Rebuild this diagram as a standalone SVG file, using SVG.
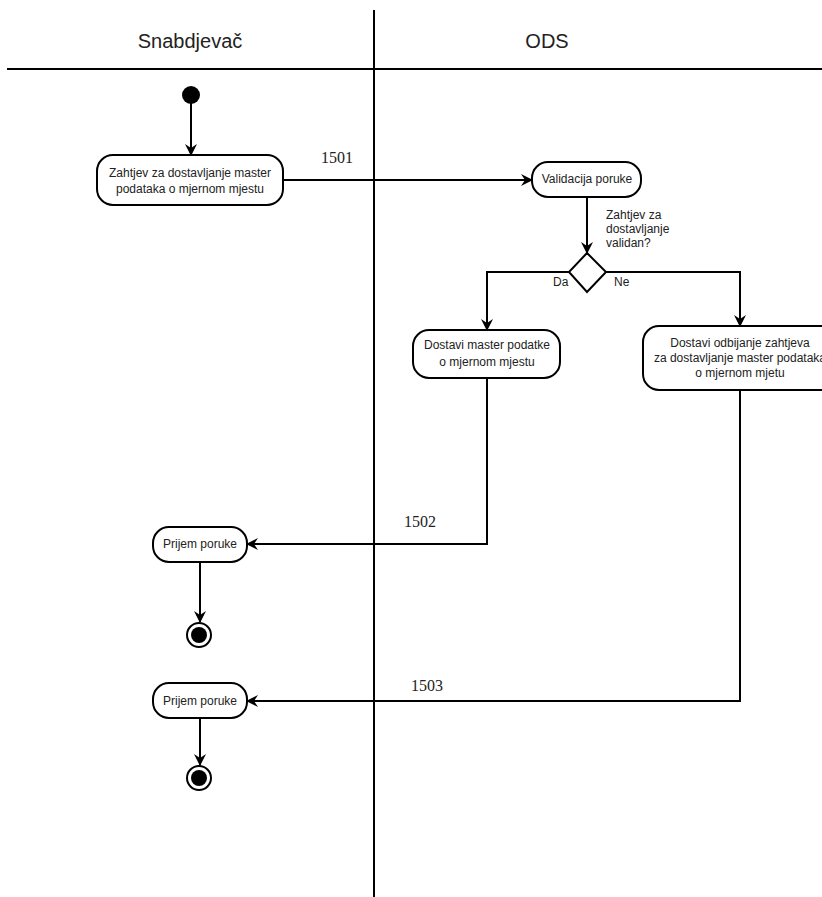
<svg xmlns="http://www.w3.org/2000/svg" width="822" height="897" viewBox="0 0 822 897">
<style>
  .lane { stroke: #000; stroke-width: 2; fill: none; }
  .node { fill: #fff; stroke: #000; stroke-width: 2; }
  .t { font-family: "Liberation Sans", Arial, sans-serif; font-size: 12px; fill: #222; text-anchor: middle; }
  .tl { font-family: "Liberation Sans", Arial, sans-serif; font-size: 12px; fill: #222; }
  .h { font-family: "Liberation Sans", Arial, sans-serif; font-size: 20px; fill: #222; text-anchor: middle; }
  .num { font-family: "Liberation Serif", "Times New Roman", serif; font-size: 16px; fill: #222; }
  .edge { stroke: #000; stroke-width: 2; fill: none; marker-end: url(#arr); }
</style>
<defs>
  <marker id="arr" viewBox="0 0 12 12" refX="11" refY="6" markerWidth="12" markerHeight="12" markerUnits="userSpaceOnUse" orient="auto">
    <path d="M0,0 L12,6 L0,12 L4,6 z" fill="#000"/>
  </marker>
</defs>
<rect width="822" height="897" fill="#fff"/>
<g id="lanes">
  <line class="lane" x1="374" y1="10" x2="374" y2="897"/>
  <line class="lane" x1="7" y1="69" x2="822" y2="69"/>
  <text class="h" x="190" y="48">Snabdjevač</text>
  <text class="h" x="547" y="48">ODS</text>
</g>
<g id="connectors">
  <line class="edge" x1="191" y1="103" x2="191" y2="155"/>
  <line class="edge" x1="283" y1="180" x2="532" y2="180"/>
  <line class="edge" x1="587" y1="197" x2="587" y2="253"/>
  <polyline class="edge" points="569,272 487,272 487,330"/>
  <polyline class="edge" points="606,272 740,272 740,326"/>
  <polyline class="edge" points="487,378 487,544 247,544"/>
  <polyline class="edge" points="740,390 740,701 247,701"/>
  <line class="edge" x1="200" y1="562" x2="200" y2="622"/>
  <line class="edge" x1="200" y1="718" x2="200" y2="765"/>
  <text class="num" x="321" y="163">1501</text>
  <text class="num" x="404" y="527">1502</text>
  <text class="num" x="411" y="691">1503</text>
  <text class="tl" x="606" y="219">Zahtjev za</text>
  <text class="tl" x="606" y="233">dostavljanje</text>
  <text class="tl" x="606" y="247">validan?</text>
  <text class="tl" x="553" y="286">Da</text>
  <text class="tl" x="614" y="286">Ne</text>
</g>
<g id="start">
  <circle cx="191" cy="95" r="9" fill="#000"/>
</g>
<g id="zahtjev">
  <rect class="node" x="97" y="155" width="186" height="50" rx="16"/>
  <text class="t" x="190" y="177">Zahtjev za dostavljanje master</text>
  <text class="t" x="190" y="193">podataka o mjernom mjestu</text>
</g>
<g id="validacija">
  <rect class="node" x="532" y="162" width="109" height="35" rx="16"/>
  <text class="t" x="587" y="183">Validacija poruke</text>
</g>
<g id="decision">
  <polygon class="node" points="587,253 606,272 587,292 569,272"/>
</g>
<g id="dostavi">
  <rect class="node" x="413" y="330" width="147" height="48" rx="16"/>
  <text class="t" x="487" y="349">Dostavi master podatke</text>
  <text class="t" x="487" y="366">o mjernom mjestu</text>
</g>
<g id="odbijanje">
  <rect class="node" x="643" y="326" width="194" height="64" rx="16"/>
  <text class="t" x="740" y="347">Dostavi odbijanje zahtjeva</text>
  <text class="t" x="740" y="362">za dostavljanje master podataka</text>
  <text class="t" x="740" y="377">o mjernom mjetu</text>
</g>
<g id="prijem1">
  <rect class="node" x="153" y="527" width="94" height="35" rx="16"/>
  <text class="t" x="200" y="548">Prijem poruke</text>
</g>
<g id="end1">
  <circle cx="199" cy="635" r="12" fill="#fff" stroke="#000" stroke-width="2"/>
  <circle cx="199" cy="635" r="8" fill="#000"/>
</g>
<g id="prijem2">
  <rect class="node" x="153" y="683" width="94" height="35" rx="16"/>
  <text class="t" x="200" y="705">Prijem poruke</text>
</g>
<g id="end2">
  <circle cx="199" cy="778" r="12" fill="#fff" stroke="#000" stroke-width="2"/>
  <circle cx="199" cy="778" r="8" fill="#000"/>
</g>
</svg>
